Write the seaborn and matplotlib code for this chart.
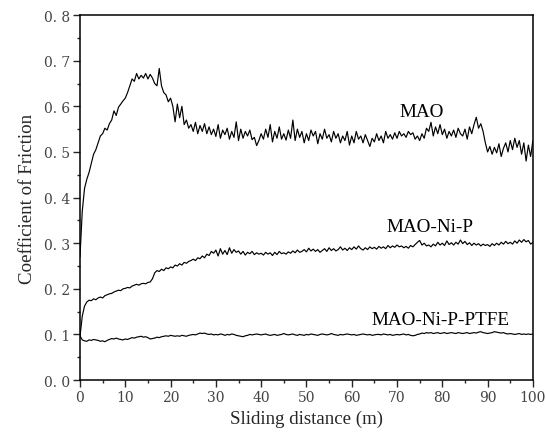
import numpy as np
import pandas as pd
import seaborn as sns
import matplotlib.pyplot as plt
from matplotlib.ticker import MultipleLocator

# friction coefficient, every 0.5 m from 0 to 100 m
mao = [
    0.27, 0.37, 0.42, 0.44, 0.455, 0.475, 0.495, 0.505, 0.52, 0.535,
    0.54, 0.552, 0.548, 0.562, 0.57, 0.59, 0.58, 0.598, 0.605, 0.612,
    0.618, 0.63, 0.645, 0.66, 0.655, 0.672, 0.66, 0.668, 0.662, 0.672,
    0.66, 0.67, 0.662, 0.65, 0.645, 0.683, 0.645, 0.63, 0.625, 0.61,
    0.618, 0.60, 0.566, 0.605, 0.575, 0.60, 0.56, 0.57, 0.552, 0.56,
    0.545, 0.565, 0.54, 0.558, 0.545, 0.562, 0.54, 0.555, 0.538, 0.55,
    0.534, 0.56, 0.53, 0.548, 0.538, 0.552, 0.528, 0.545, 0.532, 0.566,
    0.525, 0.55, 0.53, 0.545, 0.535, 0.548, 0.527, 0.532, 0.514, 0.525,
    0.54, 0.528, 0.55, 0.532, 0.56, 0.522, 0.545, 0.53, 0.555, 0.528,
    0.54, 0.526, 0.548, 0.53, 0.57, 0.525, 0.55, 0.532, 0.545, 0.52,
    0.54, 0.525, 0.548, 0.535, 0.545, 0.518, 0.54, 0.528, 0.55, 0.53,
    0.538, 0.522, 0.545, 0.53, 0.54, 0.52, 0.535, 0.525, 0.545, 0.515,
    0.535, 0.52, 0.545, 0.528, 0.535, 0.52, 0.538, 0.525, 0.512, 0.53,
    0.522, 0.54, 0.525, 0.535, 0.52, 0.545, 0.53, 0.538, 0.528, 0.542,
    0.53, 0.545, 0.535, 0.54, 0.532, 0.545, 0.538, 0.542, 0.528, 0.535,
    0.525, 0.54, 0.53, 0.552, 0.545, 0.565, 0.535, 0.555, 0.54, 0.56,
    0.538, 0.55, 0.53, 0.545, 0.535, 0.548, 0.532, 0.552, 0.54, 0.535,
    0.55, 0.528, 0.555, 0.54, 0.56, 0.576, 0.552, 0.562, 0.545, 0.52,
    0.5, 0.512, 0.495, 0.51, 0.498, 0.518, 0.49, 0.508, 0.52, 0.5,
    0.525, 0.505, 0.53, 0.51, 0.525, 0.495, 0.52, 0.48, 0.515, 0.49,
    0.525,
]

mao_nip = [
    0.095, 0.14, 0.162, 0.171, 0.175, 0.174, 0.178, 0.176, 0.18, 0.182,
    0.18, 0.185, 0.187, 0.189, 0.19, 0.193, 0.195, 0.197, 0.196, 0.2,
    0.201, 0.203, 0.202, 0.206, 0.208, 0.21, 0.208, 0.211, 0.212, 0.211,
    0.214, 0.215, 0.222, 0.235, 0.24, 0.238, 0.243, 0.24, 0.246, 0.244,
    0.248, 0.246, 0.252, 0.25, 0.255, 0.252, 0.258, 0.256, 0.26, 0.262,
    0.265, 0.262, 0.268, 0.266, 0.272, 0.268, 0.276, 0.273, 0.282, 0.278,
    0.285, 0.272, 0.288, 0.276, 0.284, 0.275, 0.29, 0.278, 0.286, 0.28,
    0.283, 0.276, 0.282, 0.274, 0.28, 0.277, 0.282, 0.275, 0.279, 0.276,
    0.278, 0.274, 0.28, 0.276, 0.279, 0.273, 0.28, 0.275, 0.282, 0.277,
    0.279, 0.276, 0.281, 0.278, 0.283, 0.279, 0.285, 0.28, 0.282, 0.286,
    0.281, 0.289, 0.283, 0.287, 0.282, 0.286, 0.28, 0.284, 0.288, 0.282,
    0.29, 0.284, 0.288, 0.283, 0.286, 0.292, 0.285, 0.289, 0.284, 0.29,
    0.286, 0.292, 0.287, 0.294, 0.288, 0.285, 0.29, 0.286, 0.292, 0.288,
    0.291, 0.287, 0.293, 0.289, 0.292, 0.288, 0.295, 0.29, 0.294, 0.291,
    0.296, 0.292, 0.294, 0.29, 0.293, 0.289, 0.295, 0.292, 0.297, 0.302,
    0.306, 0.296, 0.3, 0.294, 0.296, 0.292, 0.298, 0.294, 0.302, 0.296,
    0.3, 0.295, 0.305, 0.297, 0.301, 0.296, 0.302, 0.298, 0.307, 0.299,
    0.304, 0.297, 0.301, 0.295, 0.3, 0.296, 0.299, 0.294, 0.298, 0.295,
    0.297, 0.293, 0.299, 0.295, 0.3, 0.296, 0.302, 0.298, 0.304, 0.299,
    0.302, 0.298, 0.305, 0.3, 0.307, 0.302, 0.308, 0.303, 0.306, 0.298,
    0.302,
]

mao_nip_ptfe = [
    0.097, 0.088, 0.086, 0.085, 0.088, 0.087, 0.089, 0.088, 0.087, 0.085,
    0.086, 0.084, 0.087, 0.089, 0.091, 0.09, 0.092, 0.09, 0.089, 0.088,
    0.09, 0.089, 0.091, 0.093, 0.092, 0.094, 0.095, 0.096, 0.094, 0.095,
    0.093, 0.09, 0.091, 0.092, 0.094, 0.093, 0.095, 0.096, 0.097, 0.096,
    0.098, 0.097, 0.096, 0.097, 0.096, 0.098, 0.097, 0.096, 0.098, 0.099,
    0.1, 0.099, 0.101, 0.103, 0.102, 0.103, 0.101, 0.1, 0.101, 0.099,
    0.1, 0.099, 0.101, 0.1, 0.098, 0.1, 0.099, 0.101, 0.1, 0.098,
    0.097, 0.096, 0.095, 0.097, 0.098, 0.1, 0.099, 0.1, 0.101, 0.1,
    0.099, 0.1, 0.101, 0.099, 0.098, 0.099, 0.1, 0.098, 0.099, 0.1,
    0.102, 0.1, 0.099, 0.1, 0.101, 0.099, 0.098, 0.1, 0.099, 0.098,
    0.1, 0.099, 0.101, 0.1, 0.099, 0.098, 0.1, 0.101, 0.1, 0.099,
    0.1, 0.102, 0.1, 0.099, 0.098, 0.1, 0.099, 0.1, 0.101, 0.1,
    0.099, 0.1, 0.098, 0.099, 0.1, 0.101, 0.1, 0.099, 0.1, 0.098,
    0.099, 0.1, 0.1, 0.099, 0.101, 0.1, 0.099, 0.1, 0.098, 0.099,
    0.1, 0.099, 0.1, 0.101, 0.099, 0.1, 0.098, 0.097, 0.098, 0.1,
    0.101, 0.103, 0.102, 0.104, 0.103, 0.104, 0.102, 0.103, 0.104, 0.102,
    0.103, 0.104, 0.102, 0.103, 0.104, 0.103, 0.102, 0.104, 0.103, 0.102,
    0.103, 0.104, 0.102, 0.103, 0.104, 0.103, 0.105, 0.106, 0.104, 0.103,
    0.102, 0.103, 0.104, 0.106, 0.105, 0.104, 0.103, 0.104, 0.102, 0.101,
    0.102, 0.101, 0.1, 0.101, 0.102, 0.1, 0.101, 0.1, 0.101, 0.1,
    0.101,
]

labels = ["MAO", "MAO-Ni-P", "MAO-Ni-P-PTFE"]
label_pos = [(75.4, 0.578), (77.2, 0.327), (79.5, 0.123)]
x_ticks = [0, 10, 20, 30, 40, 50, 60, 70, 80, 90, 100]
y_ticks = [0.0, 0.1, 0.2, 0.3, 0.4, 0.5, 0.6, 0.7, 0.8]
y_tick_labels = ["0. 0", "0. 1", "0. 2", "0. 3", "0. 4", "0. 5", "0. 6", "0. 7", "0. 8"]

sns.set_style("ticks")
plt.rcParams["font.family"] = ["Liberation Serif", "DejaVu Serif"]

fig = plt.figure(figsize=(5.46, 4.35), dpi=100)
ax = fig.add_axes([0.1465, 0.124, 0.8295, 0.839])

for vals in [mao, mao_nip, mao_nip_ptfe]:
    df = pd.DataFrame({"dist": np.linspace(0, 100, len(vals)), "cof": vals})
    sns.lineplot(data=df, x="dist", y="cof", color="black", linewidth=0.85, ax=ax)

for name, (tx, ty) in zip(labels, label_pos):
    ax.text(tx, ty, name, ha="center", va="baseline", fontsize=13.8, color="black")

ax.set_xlim(0, 100)
ax.set_ylim(0, 0.8)
ax.set_xticks(x_ticks)
ax.set_xticklabels([str(t) for t in x_ticks], family="DejaVu Serif", fontsize=10, color="#444444")
ax.set_yticks(y_ticks)
ax.set_yticklabels(y_tick_labels, family="DejaVu Serif", fontsize=10, color="#444444")
ax.xaxis.set_minor_locator(MultipleLocator(5))
ax.yaxis.set_minor_locator(MultipleLocator(0.05))
ax.tick_params(which="major", direction="out", length=5, width=1, pad=2, top=False, right=False)
ax.tick_params(which="minor", direction="out", length=2.5, width=1, top=False, right=False)

for s in ax.spines.values():
    s.set_visible(True)
    s.set_linewidth(1.1)
    s.set_color("black")

ax.set_xlabel("Sliding distance (m)", fontsize=13.6, labelpad=4)
ax.set_ylabel("Coefficient of Friction", fontsize=13.6, labelpad=6)

fig.savefig("out.png", dpi=100)
